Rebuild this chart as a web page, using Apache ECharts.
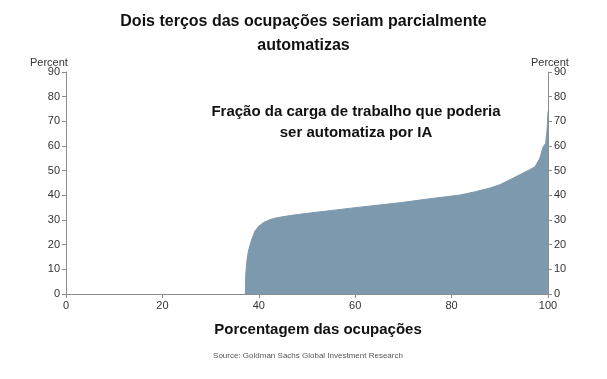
<!DOCTYPE html>
<html>
<head>
<meta charset="utf-8">
<script src="https://cdn.jsdelivr.net/npm/echarts@6/dist/echarts.min.js"></script>
<style>
html,body{margin:0;padding:0;background:#fff;}
#chart{width:607px;height:379px;}
</style>
</head>
<body>
<div id="chart"></div>
<script>
// Share of occupations (x, %) and share of workload automatable by AI (y, %)
var occupationPct = [37.2, 37.3, 37.5, 37.8, 38.2, 38.6, 39.2, 40, 41, 42.5, 44, 46.5, 50, 54.8, 60, 63.7, 69.3, 75, 80, 81.7, 85, 88, 90, 92.1, 94.2, 96.3, 97.3, 98.3, 99, 99.5, 99.8, 100];
var workloadPct = [0, 8, 13, 17, 20, 22.5, 25.5, 27.5, 29, 30.3, 31, 31.8, 32.7, 33.8, 35, 35.8, 37, 38.5, 39.7, 40.1, 41.5, 43, 44.3, 46.3, 48.4, 50.5, 51.6, 55, 59.7, 61, 66.5, 74];
var xTicks = [0, 20, 40, 60, 80, 100];
var yTicks = [0, 10, 20, 30, 40, 50, 60, 70, 80, 90];

var titleLines = ["Dois terços das ocupações seriam parcialmente", "automatizas"];
var annotationLines = ["Fração da carga de trabalho que poderia", "ser automatiza por IA"];
var xAxisTitle = "Porcentagem das ocupações";
var yUnit = "Percent";
var sourceText = "Source: Goldman Sachs Global Investment Research";

var seriesData = occupationPct.map(function (x, i) { return [x, workloadPct[i]]; });

var chart = echarts.init(document.getElementById('chart'));
var FONT = 'Liberation Sans, Arial, sans-serif';
var axisLineStyle = { color: '#8c8c8c', width: 1 };
var labelStyle = { color: '#333', fontSize: 11, fontFamily: FONT };

function yAxisDef(pos) {
  return {
    type: 'value', position: pos, min: yTicks[0], max: yTicks[yTicks.length - 1], interval: 10,
    axisLine: { show: true, lineStyle: axisLineStyle },
    axisTick: { show: true, length: 4, lineStyle: axisLineStyle },
    axisLabel: Object.assign({ margin: 6 }, labelStyle),
    splitLine: { show: false }
  };
}

chart.setOption({
  animation: false,
  backgroundColor: '#fff',
  title: [
    { text: titleLines.join('\n'), left: 'center', top: 5,
      textStyle: { fontSize: 16, fontWeight: 'bold', color: '#111', lineHeight: 24, fontFamily: FONT } },
    { text: yUnit, left: 25, top: 52, textStyle: { fontSize: 11, fontWeight: 'normal', color: '#333', fontFamily: FONT } },
    { text: yUnit, left: 526, top: 52, textStyle: { fontSize: 11, fontWeight: 'normal', color: '#333', fontFamily: FONT } },
    { text: annotationLines.join('\n'), left: 351, top: 96, textAlign: 'center',
      textStyle: { fontSize: 15, fontWeight: 'bold', color: '#111', lineHeight: 21, fontFamily: FONT } },
    { text: xAxisTitle, left: 313, top: 317, textAlign: 'center',
      textStyle: { fontSize: 15, fontWeight: 'bold', color: '#111', fontFamily: FONT } },
    { text: sourceText, left: 303, top: 347, textAlign: 'center',
      textStyle: { fontSize: 8, fontWeight: 'normal', color: '#555', fontFamily: 'Liberation Sans Narrow, Arial Narrow, ' + FONT } }
  ],
  grid: { left: 66, right: 59, top: 72, bottom: 85 },
  xAxis: {
    type: 'value', min: xTicks[0], max: xTicks[xTicks.length - 1], interval: 20,
    axisLine: { show: true, lineStyle: axisLineStyle },
    axisTick: { show: true, length: 4, lineStyle: axisLineStyle },
    axisLabel: Object.assign({ margin: 6 }, labelStyle),
    splitLine: { show: false }
  },
  yAxis: [yAxisDef('left'), yAxisDef('right')],
  series: [{
    type: 'line',
    data: seriesData,
    showSymbol: false,
    symbol: 'none',
    lineStyle: { color: '#7d99ae', width: 1 },
    areaStyle: { color: '#7d99ae', opacity: 1 },
    z: 1
  }]
});
</script>
</body>
</html>
